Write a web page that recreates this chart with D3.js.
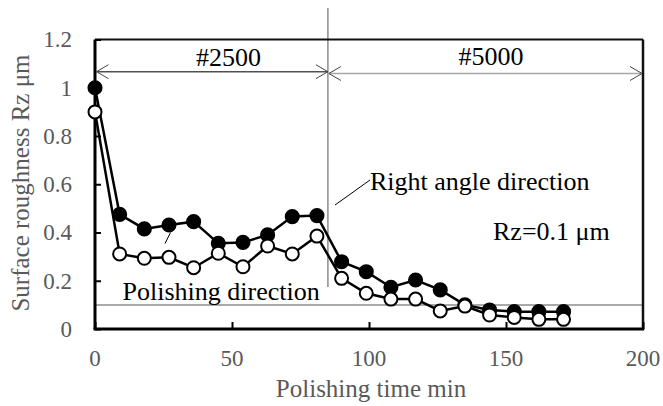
<!DOCTYPE html>
<html><head><meta charset="utf-8">
<script src="https://cdn.jsdelivr.net/npm/d3@7"></script>
<style>html,body{margin:0;padding:0;background:#fff;}svg{display:block;}</style>
</head><body>
<svg id="chart" width="663" height="406"></svg>
<script>
const times = [0, 9, 18, 27, 36, 45, 54, 63, 72, 81, 90, 99, 108, 117, 126, 135, 144, 153, 162, 171];
const rightAngle = [1.0, 0.475, 0.415, 0.431, 0.445, 0.355, 0.359, 0.39, 0.466, 0.47, 0.279, 0.2375, 0.173, 0.203, 0.162, 0.1, 0.079, 0.072, 0.072, 0.072];
const polishingDir = [0.9, 0.311, 0.293, 0.297, 0.254, 0.314, 0.258, 0.344, 0.311, 0.385, 0.21, 0.148, 0.124, 0.124, 0.075, 0.095, 0.058, 0.048, 0.04, 0.04];
const xTicks = [0, 50, 100, 150, 200];
const yTicks = [0, 0.2, 0.4, 0.6, 0.8, 1.0, 1.2];
const yTickLabels = ["0", "0.2", "0.4", "0.6", "0.8", "1", "1.2"];
const refLevel = 0.1;
const switchTime = 85;

const svg = d3.select("#chart");
const L = 95, R = 643, T = 39.5, B = 329;
const x = d3.scaleLinear().domain([0, 200]).range([L, R]);
const y = d3.scaleLinear().domain([0, 1.2]).range([B, T]);
const serif = "'Liberation Serif','Times New Roman',serif";
const gray = "#595959";

// reference line Rz = 0.1
svg.append("line").attr("x1", x(0)).attr("x2", x(200)).attr("y1", y(refLevel)).attr("y2", y(refLevel))
  .attr("stroke", "#8c8c8c").attr("stroke-width", 1.5);

// vertical switch line
svg.append("line").attr("x1", x(switchTime)).attr("x2", x(switchTime)).attr("y1", 8).attr("y2", 287)
  .attr("stroke", "#8c8c8c").attr("stroke-width", 1.5);

// frame top & right
svg.append("line").attr("x1", L).attr("x2", R).attr("y1", T).attr("y2", T).attr("stroke", "#111").attr("stroke-width", 2);
svg.append("line").attr("x1", R).attr("x2", R).attr("y1", T).attr("y2", B).attr("stroke", "#111").attr("stroke-width", 2.5);

// axes with inward ticks
const yAxis = d3.axisRight(y).tickValues(yTicks).tickSize(6).tickFormat((d, i) => "");
const gy = svg.append("g").attr("transform", `translate(${L},0)`).call(yAxis);
gy.select(".domain").attr("stroke", "#000").attr("stroke-width", 3).attr("d", `M0,${T}V${B}`);
gy.selectAll(".tick line").attr("stroke", "#000").attr("stroke-width", 2);

const xAxis = d3.axisTop(x).tickValues(xTicks).tickSize(7).tickFormat(() => "");
const gx = svg.append("g").attr("transform", `translate(0,${B})`).call(xAxis);
gx.select(".domain").attr("stroke", "#000").attr("stroke-width", 3).attr("d", `M${L - 1.5},0H${R + 1.2}`);
gx.selectAll(".tick line").attr("stroke", "#000").attr("stroke-width", 2);

// tick labels
svg.append("g").selectAll("text").data(yTicks).join("text")
  .attr("x", 72).attr("y", d => y(d)).attr("dy", "0.34em")
  .attr("text-anchor", "end").attr("font-family", serif).attr("font-size", 23).attr("fill", gray)
  .text((d, i) => yTickLabels[i]);
svg.append("g").selectAll("text").data(xTicks).join("text")
  .attr("x", d => x(d)).attr("y", 366)
  .attr("text-anchor", "middle").attr("font-family", serif).attr("font-size", 23).attr("fill", gray)
  .text(d => d);

// axis titles
svg.append("text").attr("x", 371).attr("y", 397).attr("text-anchor", "middle")
  .attr("font-family", serif).attr("font-size", 25).attr("fill", gray).text("Polishing time min");
svg.append("text").attr("transform", "translate(29,183) rotate(-90)").attr("text-anchor", "middle")
  .attr("font-family", serif).attr("font-size", 25).attr("fill", gray).text("Surface roughness Rz μm");

// dimension arrows
function arrow(x0, x1, yy, lineColor) {
  svg.append("line").attr("x1", x0).attr("x2", x1).attr("y1", yy).attr("y2", yy)
    .attr("stroke", lineColor).attr("stroke-width", 1.5);
  const hl = 12, hw = 7;
  svg.append("path").attr("d", `M${x0 + hl},${yy - hw}L${x0},${yy}L${x0 + hl},${yy + hw}`)
    .attr("fill", "none").attr("stroke", "#444").attr("stroke-width", 1);
  svg.append("path").attr("d", `M${x1 - hl},${yy - hw}L${x1},${yy}L${x1 - hl},${yy + hw}`)
    .attr("fill", "none").attr("stroke", "#444").attr("stroke-width", 1);
}
arrow(x(0) + 1.5, x(switchTime), 71.7, "#505050");
arrow(x(switchTime) + 1, x(200) - 1, 73.5, "#a6a6a6");

svg.append("text").attr("x", 228.5).attr("y", 65.5).attr("text-anchor", "middle")
  .attr("font-family", serif).attr("font-size", 26).attr("fill", "#000").text("#2500");
svg.append("text").attr("x", 491).attr("y", 65).attr("text-anchor", "middle")
  .attr("font-family", serif).attr("font-size", 26).attr("fill", "#000").text("#5000");

// series
const line = d3.line().x(d => x(d[0])).y(d => y(d[1]));
const sA = times.map((t, i) => [t, rightAngle[i]]);
const sB = times.map((t, i) => [t, polishingDir[i]]);

svg.append("path").datum(sA).attr("d", line).attr("fill", "none").attr("stroke", "#000").attr("stroke-width", 2.5);
svg.append("path").datum(sB).attr("d", line).attr("fill", "none").attr("stroke", "#000").attr("stroke-width", 2.5);

svg.append("g").selectAll("circle").data(sA).join("circle")
  .attr("cx", d => x(d[0])).attr("cy", d => y(d[1])).attr("r", 6.8)
  .attr("fill", "#000").attr("stroke", "#000").attr("stroke-width", 1.5);
svg.append("g").selectAll("circle").data(sB).join("circle")
  .attr("cx", d => x(d[0])).attr("cy", d => y(d[1])).attr("r", 6.5)
  .attr("fill", "#fff").attr("stroke", "#000").attr("stroke-width", 2);

// annotations
svg.append("line").attr("x1", 335).attr("y1", 205).attr("x2", 370).attr("y2", 180)
  .attr("stroke", "#000").attr("stroke-width", 1);
svg.append("text").attr("x", 370).attr("y", 190)
  .attr("font-family", serif).attr("font-size", 26).attr("fill", "#000").text("Right angle direction");
svg.append("text").attr("x", 493).attr("y", 240)
  .attr("font-family", serif).attr("font-size", 26).attr("fill", "#000").text("Rz=0.1 μm");
svg.append("line").attr("x1", 165).attr("y1", 243.5).attr("x2", 170.5).attr("y2", 232.5)
  .attr("stroke", "#000").attr("stroke-width", 1);
svg.append("text").attr("x", 122.5).attr("y", 300)
  .attr("font-family", serif).attr("font-size", 26).attr("fill", "#000").text("Polishing direction");
</script>
</body></html>
